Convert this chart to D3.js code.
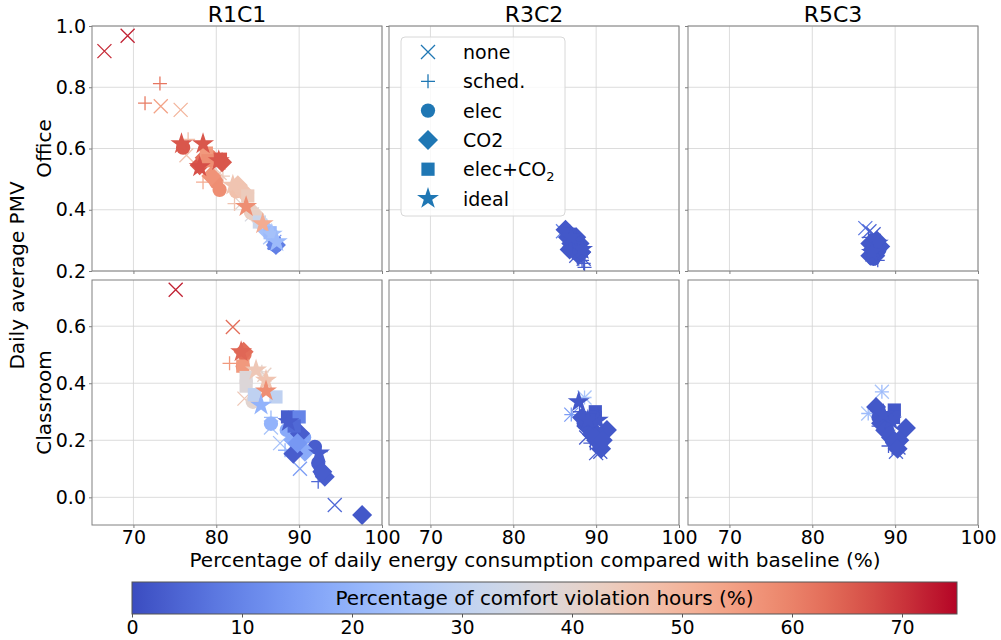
<!DOCTYPE html>
<html>
<head>
<meta charset="utf-8">
<script src="https://cdn.jsdelivr.net/npm/d3@7"></script>
<style>
body { margin: 0; background: #fff; }
text { font-family: "DejaVu Sans", sans-serif; fill: #000; }
</style>
</head>
<body>
<svg id="chart" width="1001" height="640"></svg>
<script>
// ---- data ----
var strategies = ["none", "sched.", "elec", "CO2", "elec+CO2", "ideal"];
var colTitles = ["R1C1", "R3C2", "R5C3"];
var rowLabels = ["Office", "Classroom"];
var xTicks = [70, 80, 90, 100];
var yTicksOffice = [0.2, 0.4, 0.6, 0.8, 1.0];
var yTicksClass = [0.0, 0.2, 0.4, 0.6];
var cbTicks = [0, 10, 20, 30, 40, 50, 60, 70];

// point = [strategy index, energy % of baseline, daily PMV, comfort violation %]
var officeR1C1 = [
  [0,66.5,0.918,71],[0,69.3,0.968,72],[0,73.3,0.738,54],[0,75.7,0.726,50],[0,76.4,0.578,46],
  [0,80.4,0.52,44],[0,83.0,0.42,40],[0,84.3,0.385,36],[0,86.5,0.31,26],[0,87.0,0.295,14],
  [1,73.2,0.812,62],[1,71.4,0.748,61],[1,76.6,0.63,48],[1,78.4,0.49,52],[1,80.8,0.51,44],
  [1,82.2,0.42,46],[1,84.8,0.37,38],[1,86.2,0.33,28],
  [2,76.0,0.603,66],[2,79.2,0.575,60],[2,80.0,0.49,58],[2,80.4,0.465,58],[2,82.4,0.46,47],
  [2,84.2,0.39,44],[2,85.5,0.355,32],[2,87.2,0.283,8],
  [3,78.0,0.545,66],[3,78.6,0.57,63],[3,80.7,0.555,66],[3,79.4,0.51,57],[3,82.6,0.48,46],
  [3,83.4,0.455,46],[3,84.6,0.385,42],[3,86.2,0.33,24],[3,87.2,0.285,9],
  [4,78.8,0.585,56],[4,79.0,0.56,58],[4,80.5,0.565,66],[4,83.8,0.445,44],[4,85.2,0.36,33],
  [4,86.5,0.325,22],[4,87.0,0.29,10],
  [5,75.8,0.615,66],[5,78.4,0.615,66],[5,80.3,0.56,66],[5,78.0,0.54,67],[5,82.0,0.48,46],
  [5,83.6,0.41,58],[5,85.6,0.354,52],[5,86.7,0.32,24],[5,87.3,0.295,22]
];
var officeR3C2 = [
  [0,86.0,0.33,10],[0,86.8,0.30,6],[0,87.6,0.25,3],[0,88.5,0.24,3],
  [1,88.3,0.235,3],[1,88.5,0.225,3],[1,88.2,0.245,3],[1,88.6,0.212,3],[1,87.9,0.24,3],
  [2,87.2,0.30,2],[2,87.8,0.28,2],
  [3,86.3,0.335,2],[3,86.6,0.31,2],[3,87.0,0.29,2],[3,87.4,0.27,2],[3,87.8,0.255,2],
  [3,88.0,0.29,2],[3,87.6,0.31,2],[3,88.2,0.262,2],[3,86.8,0.27,2],
  [4,86.8,0.32,2],[4,87.5,0.30,2],[4,88.0,0.275,2],
  [5,87.0,0.31,2],[5,88.3,0.27,2]
];
var officeR5C3 = [
  [0,86.4,0.34,8],[0,86.9,0.33,5],[0,87.4,0.32,3],
  [1,86.8,0.31,3],[1,87.9,0.235,3],
  [2,87.8,0.26,2],[2,88.1,0.27,2],[2,87.4,0.24,2],
  [3,87.0,0.29,2],[3,87.3,0.27,2],[3,87.6,0.25,2],[3,88.2,0.28,2],[3,87.8,0.30,2],[3,87.0,0.25,2],
  [4,87.5,0.30,2],[4,87.2,0.28,2],
  [5,87.9,0.29,2],[5,87.2,0.26,2]
];
var classR1C1 = [
  [0,75.1,0.728,72],[0,82.0,0.597,63],[0,85.8,0.43,42],[0,83.4,0.346,45],[0,86.6,0.245,25],
  [0,87.7,0.19,24],[0,90.1,0.10,15],[0,94.3,-0.027,5],
  [1,81.6,0.47,56],[1,85.5,0.44,40],[1,86.6,0.28,22],[1,88.3,0.165,20],[1,92.3,0.055,5],[1,92.6,0.16,4],
  [2,83.2,0.46,60],[2,83.4,0.50,62],[2,84.4,0.335,40],[2,86.6,0.258,20],[2,88.5,0.236,18],
  [2,90.6,0.21,16],[2,91.9,0.177,3],[2,92.3,0.12,3],[2,92.6,0.09,3],
  [3,83.3,0.51,63],[3,89.3,0.201,18],[3,90.7,0.16,18],[3,90.1,0.224,3],[3,89.3,0.153,3],
  [3,93.1,0.072,3],[3,92.8,0.09,3],[3,97.6,-0.062,2],[3,89.8,0.19,14],
  [4,83.2,0.46,56],[4,83.6,0.42,38],[4,83.6,0.39,38],[4,84.6,0.36,30],[4,87.2,0.352,30],
  [4,88.6,0.282,3],[4,90.0,0.282,10],[4,89.4,0.25,5],
  [5,83.0,0.51,64],[5,84.8,0.446,45],[5,86.0,0.41,46],[5,86.0,0.373,58],[5,85.4,0.323,20],
  [5,88.7,0.265,3],[5,92.4,0.155,3]
];
var classR3C2 = [
  [0,88.6,0.35,25],[0,87.0,0.29,15],[0,90.0,0.155,3],[0,90.5,0.16,3],[0,88.8,0.21,3],
  [1,88.6,0.35,25],[1,87.0,0.29,15],[1,88.0,0.30,3],[1,89.3,0.19,3],
  [2,88.5,0.26,2],[2,89.2,0.24,2],[2,89.8,0.23,2],
  [3,91.3,0.236,2],[3,90.6,0.17,2],[3,90.0,0.20,2],[3,88.8,0.25,2],[3,89.5,0.22,2],
  [3,88.3,0.28,2],[3,90.8,0.20,2],
  [4,89.9,0.30,2],[4,89.9,0.28,2],[4,89.5,0.27,2],
  [5,87.9,0.335,2],[5,90.2,0.27,2],[5,89.0,0.27,2]
];
var classR5C3 = [
  [0,88.4,0.37,25],[0,86.75,0.294,25],[0,90.1,0.16,5],[0,90.4,0.175,3],
  [1,88.4,0.37,22],[1,86.75,0.294,22],[1,88.0,0.25,3],[1,89.2,0.18,3],
  [2,88.0,0.28,2],[2,89.0,0.24,2],[2,89.6,0.20,2],
  [3,87.7,0.317,2],[3,91.3,0.243,2],[3,90.5,0.20,2],[3,89.5,0.21,2],[3,88.3,0.26,2],
  [3,88.8,0.235,2],[3,90.3,0.17,2],
  [4,89.9,0.306,2],[4,89.8,0.28,2],
  [5,89.5,0.27,2],[5,88.6,0.29,2]
];
var panelData = [[officeR1C1, officeR3C2, officeR5C3], [classR1C1, classR3C2, classR5C3]];

// ---- colormap (coolwarm) ----
var coolwarm = d3.interpolateRgbBasis(["#3b4cc0", "#6282ea", "#8db0fe", "#b8d0f9", "#dddddd",
                                        "#f5c4ad", "#f49a7b", "#de604d", "#b40426"]);
var cmax = 75;
function colorOf(c) { return coolwarm(Math.max(0, Math.min(1, c / cmax))); }

// ---- layout ----
var svg = d3.select("#chart");
var colX = [92, 389, 688];
var panelW = 290;
var rowY = [26, 280];
var rowH = [245, 245];
var xDomain = [65, 100];
var yDomains = [[0.2, 1.0], [-0.097, 0.762]];
var frameColor = "#808080";
var gridColor = "#d3d3d3";
var fs = "19px";   // tick labels, legend
var fl = "20px";   // axis labels

// ---- markers ----
function markerPath(type) {
  var h = 7;
  if (type == 0) return "M" + (-h) + "," + (-h) + "L" + h + "," + h + "M" + (-h) + "," + h + "L" + h + "," + (-h);
  if (type == 1) return "M" + (-h) + ",0L" + h + ",0M0," + (-h) + "L0," + h;
  if (type == 2) return d3.symbol(d3.symbolCircle, 160)();
  if (type == 3) return d3.symbol(d3.symbolSquare, 200)();
  if (type == 4) return d3.symbol(d3.symbolSquare, 175)();
  return d3.symbol(d3.symbolStar, 150)();
}
function drawMarker(sel, type, color) {
  var p = sel.append("path").attr("d", markerPath(type));
  if (type <= 1) {
    p.attr("fill", "none").attr("stroke", color).attr("stroke-width", 1.3);
  } else {
    p.attr("fill", color);
  }
  if (type == 3) p.attr("transform", "rotate(45)");
  return p;
}

var defs = svg.append("defs");

for (var r = 0; r < 2; r++) {
  for (var c = 0; c < 3; c++) {
    var x = d3.scaleLinear().domain(xDomain).range([0, panelW]);
    var y = d3.scaleLinear().domain(yDomains[r]).range([rowH[r], 0]);
    var yTicks = r == 0 ? yTicksOffice : yTicksClass;
    var g = svg.append("g").attr("transform", "translate(" + colX[c] + "," + rowY[r] + ")");

    // grid
    g.append("g").selectAll("line").data(xTicks).enter().append("line")
      .attr("x1", d => x(d)).attr("x2", d => x(d)).attr("y1", 0).attr("y2", rowH[r])
      .attr("stroke", gridColor).attr("stroke-width", 0.8);
    g.append("g").selectAll("line").data(yTicks).enter().append("line")
      .attr("y1", d => y(d)).attr("y2", d => y(d)).attr("x1", 0).attr("x2", panelW)
      .attr("stroke", gridColor).attr("stroke-width", 0.8);

    // points
    var clipId = "clip" + r + c;
    defs.append("clipPath").attr("id", clipId).append("rect")
      .attr("width", panelW).attr("height", rowH[r]);
    var pts = g.append("g").attr("clip-path", "url(#" + clipId + ")");
    var data = panelData[r][c];
    for (var s = 0; s < strategies.length; s++) {
      data.filter(d => d[0] == s).forEach(function(d) {
        var m = pts.append("g").attr("transform", "translate(" + x(d[1]) + "," + y(d[2]) + ")");
        drawMarker(m, s, colorOf(d[3]));
      });
    }

    // frame
    g.append("rect").attr("width", panelW).attr("height", rowH[r])
      .attr("fill", "none").attr("stroke", frameColor).attr("stroke-width", 1);

    // axes
    var xa = d3.axisBottom(x).tickValues(xTicks).tickSize(3).tickPadding(3)
      .tickFormat(r == 1 ? d3.format("d") : "");
    var xg = g.append("g").attr("transform", "translate(0," + rowH[r] + ")").call(xa);
    var ya = d3.axisLeft(y).tickValues(yTicks).tickSize(3).tickPadding(3)
      .tickFormat(c == 0 ? d3.format(".1f") : "");
    var yg = g.append("g").call(ya);
    [xg, yg].forEach(function(a) {
      a.select(".domain").remove();
      a.selectAll(".tick line").attr("stroke", frameColor);
      a.selectAll(".tick text").style("font-size", fs).style("font-family", "DejaVu Sans").attr("fill", "#000");
    });

    if (r == 0) {
      g.append("text").attr("x", panelW / 2).attr("y", -4).attr("text-anchor", "middle")
        .style("font-size", "22px").text(colTitles[c]);
    }
    if (c == 0) {
      g.append("text").attr("transform", "translate(-41," + (rowH[r] / 2) + ") rotate(-90)")
        .attr("text-anchor", "middle").style("font-size", fl).text(rowLabels[r]);
    }
  }
}

// shared axis labels
svg.append("text").attr("x", (colX[0] + colX[2] + panelW) / 2).attr("y", 567)
  .attr("text-anchor", "middle").style("font-size", fl)
  .text("Percentage of daily energy consumption compared with baseline (%)");
svg.append("text").attr("transform", "translate(24," + ((rowY[0] + rowY[1] + rowH[1]) / 2) + ") rotate(-90)")
  .attr("text-anchor", "middle").style("font-size", fl).text("Daily average PMV");

// legend in R3C2 office panel
var lg = svg.append("g").attr("transform", "translate(401,37)");
lg.append("rect").attr("width", 164).attr("height", 179).attr("rx", 4)
  .attr("fill", "#fff").attr("fill-opacity", 0.8).attr("stroke", "#d8d8d8");
strategies.forEach(function(s, i) {
  var row = lg.append("g").attr("transform", "translate(27," + (15 + i * 29.3) + ")");
  drawMarker(row.append("g"), i, "#1f77b4");
  var t = row.append("text").attr("x", 35).attr("y", 7).style("font-size", fs);
  if (s == "elec+CO2") {
    t.text("elec+CO");
    t.append("tspan").attr("dy", 5).style("font-size", "13px").text("2");
  } else {
    t.text(s);
  }
});

// colorbar
var cbX = 132, cbY = 582, cbW = 825, cbH = 32;
var grad = defs.append("linearGradient").attr("id", "cbGrad");
d3.range(0, 1.0001, 0.02).forEach(function(t) {
  grad.append("stop").attr("offset", (t * 100) + "%").attr("stop-color", coolwarm(t));
});
svg.append("rect").attr("x", cbX).attr("y", cbY).attr("width", cbW).attr("height", cbH)
  .attr("fill", "url(#cbGrad)").attr("stroke", "#555").attr("stroke-width", 1);
var cbScale = d3.scaleLinear().domain([0, cmax]).range([cbX, cbX + cbW]);
var cbAxis = svg.append("g").attr("transform", "translate(0," + (cbY + cbH) + ")")
  .call(d3.axisBottom(cbScale).tickValues(cbTicks).tickSize(3.5).tickPadding(3).tickFormat(d3.format("d")));
cbAxis.select(".domain").remove();
cbAxis.selectAll(".tick line").attr("stroke", "#555");
cbAxis.selectAll(".tick text").style("font-size", fs).style("font-family", "DejaVu Sans").attr("fill", "#000");
svg.append("text").attr("x", cbX + cbW / 2).attr("y", cbY + 23).attr("text-anchor", "middle")
  .style("font-size", fl).text("Percentage of comfort violation hours (%)");
</script>
</body>
</html>
